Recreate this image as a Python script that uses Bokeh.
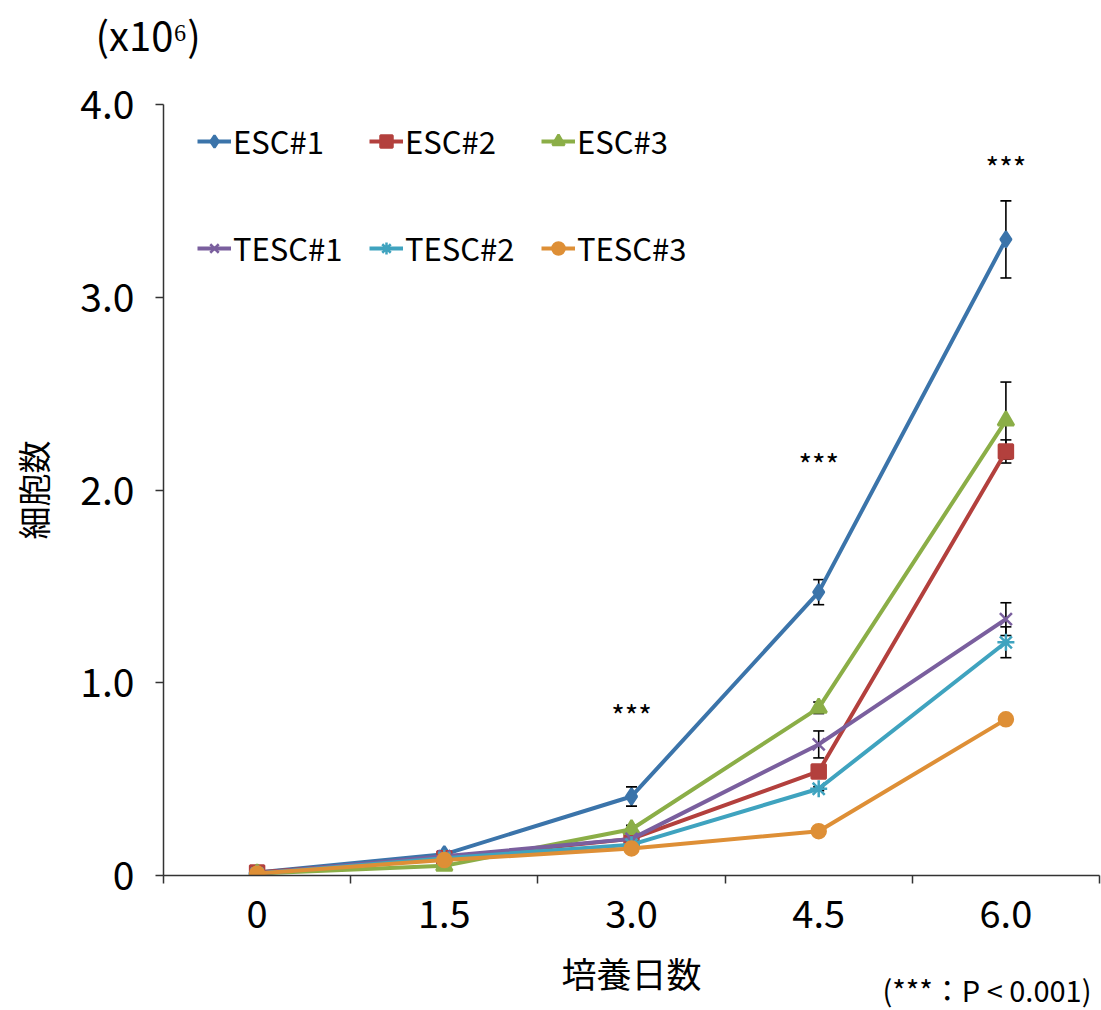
from bokeh.plotting import figure
from bokeh.models import (ColumnDataSource, FixedTicker, Legend, LegendItem,
                          Whisker, TeeHead, Title)
from bokeh.embed import file_html
from bokeh.resources import INLINE

# Culture days (categories) and cell counts (x10^6)
days = ["0", "1.5", "3.0", "4.5", "6.0"]

esc1 = [0.015, 0.11, 0.41, 1.47, 3.30]
esc2 = [0.015, 0.09, 0.19, 0.54, 2.20]
esc3 = [0.010, 0.05, 0.24, 0.87, 2.36]
tesc1 = [0.010, 0.10, 0.19, 0.68, 1.33]
tesc2 = [0.010, 0.09, 0.16, 0.45, 1.21]
tesc3 = [0.010, 0.08, 0.14, 0.23, 0.81]

# Standard deviations
esc1_sd = [0.0, 0.01, 0.05, 0.065, 0.20]
esc2_sd = [0.0, 0.01, 0.01, 0.02, 0.06]
esc3_sd = [0.0, 0.01, 0.02, 0.03, 0.20]
tesc1_sd = [0.0, 0.01, 0.01, 0.07, 0.085]
tesc2_sd = [0.0, 0.01, 0.01, 0.01, 0.08]
tesc3_sd = [0.0, 0.01, 0.01, 0.01, 0.01]

series_names = ["ESC#1", "ESC#2", "ESC#3", "TESC#1", "TESC#2", "TESC#3"]
series_values = [esc1, esc2, esc3, tesc1, tesc2, tesc3]
series_sd = [esc1_sd, esc2_sd, esc3_sd, tesc1_sd, tesc2_sd, tesc3_sd]
colors = ["#3b74aa", "#b3403d", "#8bae47", "#7a5f9e", "#3fa3bf", "#de8f36"]
markers = ["diamond", "square", "triangle", "x", "asterisk", "circle"]
marker_sizes = [16, 14, 16, 17, 17, 14]

# Significance marks
sig_days = ["3.0", "4.5", "6.0"]
sig_y = [0.84, 2.14, 3.68]

FONT = "Noto Sans CJK JP"
xs = list(range(len(days)))

FRAME_LEFT, FRAME_TOP, FRAME_BOTTOM = 163, 104, 875

p = figure(width=1101, height=1010, output_backend="svg", toolbar_location=None,
           x_range=(-0.5, len(days) - 0.5), y_range=(0, 4.0),
           min_border_left=FRAME_LEFT, min_border_right=2, min_border_top=FRAME_TOP,
           min_border_bottom=1010 - FRAME_BOTTOM)
p.outline_line_color = None
p.grid.visible = False
p.background_fill_color = "white"
p.border_fill_color = "white"

legend_items = []
for name, vals, sd, col, mk, ms in zip(series_names, series_values, series_sd,
                                       colors, markers, marker_sizes):
    src = ColumnDataSource(dict(
        x=xs, y=vals,
        lo=[v - s for v, s in zip(vals, sd)],
        hi=[v + s for v, s in zip(vals, sd)]))
    ln = p.line("x", "y", source=src, line_color=col, line_width=4)
    sc = p.scatter("x", "y", source=src, marker=mk, size=ms,
                   fill_color=col, line_color=col, line_width=2.5)
    w = Whisker(source=src, base="x", lower="lo", upper="hi",
                line_color="black", line_width=1.6,
                upper_head=TeeHead(size=11, line_color="black", line_width=1.6),
                lower_head=TeeHead(size=11, line_color="black", line_width=1.6))
    p.add_layout(w)
    legend_items.append(LegendItem(label=name, renderers=[ln, sc]))

# Two legend rows, columns kept aligned by a fixed label width
for i, yloc in enumerate([712, 605]):
    lg = Legend(items=legend_items[i * 3:(i + 1) * 3], orientation="horizontal",
                location=(34, yloc), glyph_width=34, glyph_height=30,
                label_height=30, label_width=112, label_standoff=2, spacing=24,
                padding=0, margin=0, border_line_color=None,
                background_fill_alpha=0, label_text_font=FONT,
                label_text_font_size="31px", label_text_color="black")
    p.add_layout(lg)

# Significance asterisks
p.text(x=[days.index(d) for d in sig_days], y=sig_y, text=["***"] * len(sig_days),
       text_font_size="29px", text_align="center", text_baseline="middle",
       text_color="black", text_font={"value": FONT})

# X axis: labels at category centres, ticks at category boundaries
xa = p.xaxis[0]
xa.ticker = FixedTicker(ticks=xs, minor_ticks=[i - 0.5 for i in range(len(days) + 1)])
xa.major_label_overrides = {i: d for i, d in enumerate(days)}
xa.major_tick_line_color = None
xa.major_tick_out = 0
xa.minor_tick_out = 8
xa.minor_tick_in = 0
xa.minor_tick_line_color = "#333333"
xa.minor_tick_line_width = 1.5
xa.axis_line_color = "#333333"
xa.axis_line_width = 1.5
xa.major_label_standoff = 16
xa.major_label_text_font = FONT
xa.major_label_text_font_size = "38px"
xa.major_label_text_color = "black"
xa.axis_label = "培養日数"
xa.axis_label_standoff = 16
xa.axis_label_text_font = FONT
xa.axis_label_text_font_size = "35px"
xa.axis_label_text_font_style = "normal"
xa.axis_label_text_color = "black"

# Y axis
ya = p.yaxis[0]
ya.ticker = FixedTicker(ticks=[0, 1, 2, 3, 4], minor_ticks=[])
ya.major_label_overrides = {0: "0", 1: "1.0", 2: "2.0", 3: "3.0", 4: "4.0"}
ya.major_tick_out = 8
ya.major_tick_in = 0
ya.major_tick_line_color = "#333333"
ya.major_tick_line_width = 1.5
ya.axis_line_color = "#333333"
ya.axis_line_width = 1.5
ya.major_label_standoff = 21
ya.major_label_text_font = FONT
ya.major_label_text_font_size = "39px"
ya.major_label_text_color = "black"
ya.axis_label = "細胞数"
ya.axis_label_standoff = 20
ya.axis_label_text_font = FONT
ya.axis_label_text_font_size = "33px"
ya.axis_label_text_font_style = "normal"
ya.axis_label_text_color = "black"

# Unit above the y axis (pulled up into the top margin)
p.add_layout(Title(text="(x10⁶)", align="left", offset=95 - FRAME_LEFT,
                   vertical_align="top", standoff=-200, text_font=FONT,
                   text_font_size="40px", text_font_style="normal",
                   text_color="black"), "above")

# Significance note, level with the x-axis title
p.add_layout(Title(text="(***：P < 0.001)", align="right", offset=8,
                   vertical_align="top", standoff=-66, text_font=FONT,
                   text_font_size="29px", text_font_style="normal",
                   text_color="black"), "below")

open("out.html", "w").write(file_html(p, INLINE))
